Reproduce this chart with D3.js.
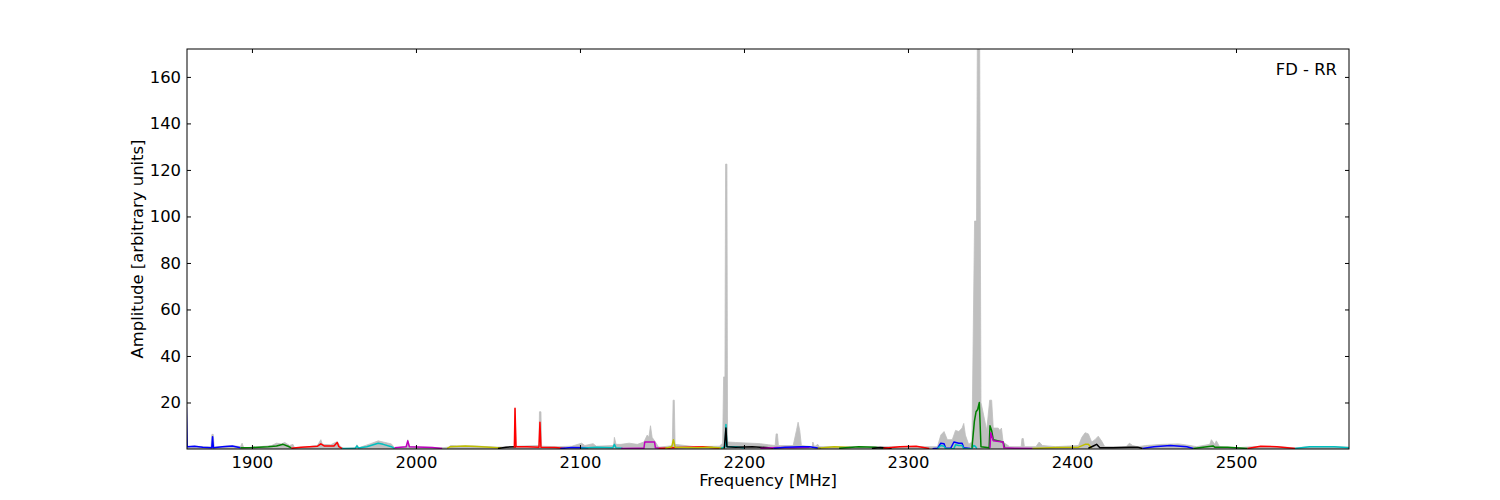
<!DOCTYPE html>
<html>
<head>
<meta charset="utf-8">
<script src="https://cdn.jsdelivr.net/npm/d3@7"></script>
<style>
  html, body { margin: 0; padding: 0; background: #fff; }
  svg text { font-family: "DejaVu Sans", sans-serif; }
</style>
</head>
<body>
<svg id="chart" width="1500" height="500"></svg>
<script>
// ---------------- DATA ----------------
const xTicks = [1900, 2000, 2100, 2200, 2300, 2400, 2500];
const yTicks = [20, 40, 60, 80, 100, 120, 140, 160];
const xDomain = [1860.4, 2568.9];
const yDomain = [0, 172];
const panelLabel = "FD - RR";
const xLabel = "Frequency [MHz]";
const yLabel = "Amplitude [arbitrary units]";

// grey envelope (maximum over all spectra) : [frequency MHz, amplitude]
const envelope = [
  [1860,18],[1860.6,1],[1865,1.2],[1870,1],[1875,0.8],[1875.6,6.3],[1876.4,6.3],[1877,0.8],[1885,1.3],[1890,1.3],
  [1893,1],[1894,2.5],[1895,0.5],[1905,1],[1912,1.5],[1915,2.5],[1918,2.2],[1920,2.8],[1923,1.5],[1925,2],[1926,0.5],
  [1935,1],[1940,1.6],[1942,4],[1943,2],[1948,1.8],[1952,3.2],[1954,1],[1956,0.3],
  [1963.5,0.6],[1964,1.8],[1965,0.5],[1972,2.2],[1977,3.5],[1980,3],[1985,2.2],[1987,0.5],
  [1994.5,1],[1995,4],[1996,1],[2005,0.8],[2015,0.5],[2020,0.8],[2021,1.5],[2025,1.3],[2035,1.3],[2050,0.8],
  [2060,1],[2060.4,17.5],[2061,1.2],[2075,1.5],[2075.3,16],[2076.2,16],[2076.6,1.2],[2085,1],[2095,1.2],
  [2101,2.5],[2103,1.5],[2108,2.3],[2110,1.2],[2120.5,1.5],[2121,5],[2122,2],[2125,2],[2130,2.5],[2135,2],
  [2139,3],[2141,6],[2142,5],[2143,10],[2144,5],[2146,3],[2148,0.8],[2155,1.3],[2156.3,1.5],[2156.8,21],[2157.5,21],[2158,2],
  [2170,1],[2185,1.2],[2187,2.5],[2187.6,31],[2188.4,31],[2188.8,122.5],[2189.6,122.5],[2190,3],[2195,2.8],[2210,2.3],
  [2215,1.8],[2219,1.5],[2219.6,6.5],[2220.4,6.5],[2221,1.5],[2230,1.5],[2232,8],[2233,11.5],[2234,8],[2235,1.5],
  [2241.6,1],[2242,3],[2243,1],[2245,2],[2246,1],[2265,1],[2290,1],[2310,1],[2318,1],
  [2320,6],[2322,7.5],[2324,4],[2327,4],[2329,8],[2331,7.5],[2333,9],[2334,11],[2335,6],[2337,2],[2339,3],
  [2340.6,98],[2341.8,98],[2342.3,176],[2343.7,176],[2344.5,20],[2346,15],[2348,8],[2349.8,21],[2351,21],[2352,9],
  [2355,9],[2356,8],[2357,9],[2358,3],[2362,1],[2369,1],[2369.5,4.5],[2370.3,4.5],[2371,1],[2378,1],[2380,3],
  [2382,1.5],[2390,1],[2404,1.5],[2406,5],[2408,7],[2410,6.5],[2412,3],[2414,4],[2416,5.5],[2418,3.5],[2420,1],
  [2433,1],[2435,2.5],[2437,1.5],[2440,1],[2445,1.5],[2455,2],[2465,2.2],[2472,1.5],[2476,1],[2484,2],[2485,4],
  [2487,2],[2488,3.5],[2490,1],[2500,0.5],[2510,1],[2525,1],[2536,0.5],[2545,1],[2560,1],[2569,0.8]
];

// median spectra of each sub-band : [frequency MHz, amplitude]
const band01 = [[1860,18],[1860.5,1],[1865,1.2],[1870,0.8],[1875.5,0.5],[1876,5.3],[1876.5,0.5],[1882,1],[1888,1.3],[1893,0.5]];
const band02 = [[1893,0.5],[1900,0.6],[1910,1],[1915,1.3],[1919,2],[1922,1.2],[1924,0.5]];
const band03 = [[1924,0.3],[1930,0.8],[1940,1.2],[1942,2.2],[1944,1.3],[1950,1.3],[1952,2.8],[1953,1],[1955,0.2]];
const band04 = [[1955,0.2],[1963,0.3],[1964,1.3],[1965,0.4],[1970,1],[1977,2.5],[1980,2],[1985,1],[1987,0.2]];
const band05 = [[1987,0.5],[1994,1],[1995,3.5],[1996,1],[2005,0.8],[2010,0.6],[2016,0.2]];
const band06 = [[2019,0.3],[2021,1],[2030,1.3],[2040,1],[2052,0.4]];
const band07 = [[2050,0.2],[2055,0.8],[2061,1]];
const band08 = [[2060,0.5],[2060.4,17.5],[2061,1],[2068,1],[2075,0.8],[2075.6,11.5],[2076.2,0.8],[2085,0.6],[2091,0.2]];
const band09 = [[2088,0.2],[2095,0.6],[2105,0.5]];
const band10 = [[2100,0.3],[2110,0.8],[2120,0.5],[2121,2],[2122,0.5],[2126,0.3]];
const band11 = [[2125,0.2],[2135,0.3],[2139,0.3],[2139.5,3],[2145.5,3],[2146,0.5],[2150,0.2],[2155,0.2]];
const band12 = [[2148,0.2],[2160,0.6],[2175,1],[2185,0.3]];
const band13 = [[2152,0.3],[2156,1],[2157,4],[2158,0.8],[2170,0.5],[2180,0.8],[2188,0.3]];
const band14 = [[2186,0.2],[2188.5,1],[2189,10.5],[2189.6,1],[2195,1],[2200,0.4]];
const band15 = [[2188,0.2],[2189,9],[2189.6,1],[2195,0.8],[2205,1],[2215,0.5],[2218,0.2]];
const band16 = [[2210,0.2],[2220,0.6],[2230,0.5],[2240,0.8]];
const band17 = [[2218,0.2],[2225,0.8],[2235,1],[2240,1],[2247,0.2]];
const band18 = [[2245,0.3],[2255,1],[2265,0.6]];
const band19 = [[2258,0.3],[2270,1],[2280,0.8],[2285,0.3]];
const band20 = [[2278,0.2],[2283,0.6],[2290,0.3]];
const band21 = [[2285,0.3],[2295,1],[2305,1.2],[2313,0.2]];
const band22 = [[2315,0.1],[2318,0.3],[2320,2.5],[2322,2.3],[2323,0.3],[2326,0.3],[2328,3],[2331,2.5],[2333,2.5],[2334,0.5],[2338,0.2]];
const band23 = [[2318,0.2],[2320,1.5],[2322,1.2],[2323,0.1],[2328,0.1],[2329,1.8],[2331,1.5],[2333,1.5],[2334,0.1],[2339,0.2],[2340,1.5],[2341,1.2],[2342,0.2]];
const band24 = [[2339,0.5],[2340.5,12],[2341.5,16],[2342.5,17],[2343.5,20],[2344.5,1],[2349.5,0.5],[2350,10],[2351,8],[2352,4],[2358,3],[2359,0.5]];
const band25 = [[2350,0.5],[2350.5,7],[2352,3.5],[2358,3],[2358.5,0.5],[2365,0.3],[2376,0.2]];
const band26 = [[2376,0.2],[2390,0.6],[2404,0.8],[2408,2],[2410,2],[2412,0.3]];
const band27 = [[2410,0.3],[2413,1.3],[2415,2],[2417,0.5],[2425,0.5],[2435,0.8],[2440,0.8],[2443,0.2]];
const band28 = [[2443,0.2],[2450,1],[2460,1.5],[2470,1],[2474,0.2]];
const band29 = [[2474,0.2],[2480,0.8],[2486,1.3],[2487,0.8],[2495,0.8],[2507,0.2]];
const band30 = [[2507,0.2],[2515,1.2],[2525,1],[2536,0.2]];
const band31 = [[2536,0.2],[2545,1],[2560,1],[2569,0.5]];

const bands = [band01,band02,band03,band04,band05,band06,band07,band08,band09,band10,band11,band12,band13,band14,band15,band16,
  band17,band18,band19,band20,band21,band22,band23,band24,band25,band26,band27,band28,band29,band30,band31];
const bandColorKeys = ["b","g","r","c","m","y","k","r","b","c","m","r","y","c","k","m","b","y","g","k","r","b","c","g","m","y","k","b","g","r","c"];

// ---------------- STYLE ----------------
const palette = { b: "#0000ff", g: "#008000", r: "#ff0000", c: "#00bfbf", m: "#bf00bf", y: "#bfbf00", k: "#000000" };
const margin = { left: 187, right: 151, top: 49, bottom: 51 };
const W = 1500, H = 500;
const iw = W - margin.left - margin.right, ih = H - margin.top - margin.bottom;

const svg = d3.select("#chart");
const g = svg.append("g").attr("transform", `translate(${margin.left},${margin.top})`);

const x = d3.scaleLinear().domain(xDomain).range([0, iw]);
const y = d3.scaleLinear().domain(yDomain).range([ih, 0]);

svg.append("defs").append("clipPath").attr("id", "clip")
  .append("rect").attr("width", iw).attr("height", ih);

const plot = g.append("g").attr("clip-path", "url(#clip)");

plot.append("path")
  .datum(envelope)
  .attr("fill", "#bfbfbf")
  .attr("stroke", "#bfbfbf")
  .attr("stroke-width", 0.8)
  .attr("d", d3.area().x(d => x(d[0])).y0(y(0)).y1(d => y(d[1])));

bands.forEach((b, i) => {
  plot.append("path")
    .datum(b)
    .attr("fill", "none")
    .attr("stroke", palette[bandColorKeys[i]])
    .attr("stroke-width", 1.5)
    .attr("stroke-linejoin", "round")
    .attr("d", d3.line().x(d => x(d[0])).y(d => y(d[1])));
});

// axes (ticks inside, on all four sides)
const fs = "16.4px";
const tl = 4;
const axB = g.append("g").attr("transform", `translate(0,${ih})`)
  .call(d3.axisBottom(x).tickValues(xTicks).tickSize(-tl).tickPadding(7).tickFormat(d3.format("d")));
const axT = g.append("g")
  .call(d3.axisTop(x).tickValues(xTicks).tickSize(-tl).tickFormat(""));
const axL = g.append("g")
  .call(d3.axisLeft(y).tickValues(yTicks).tickSize(-tl).tickPadding(6).tickFormat(d3.format("d")));
const axR = g.append("g").attr("transform", `translate(${iw},0)`)
  .call(d3.axisRight(y).tickValues(yTicks).tickSize(-tl).tickFormat(""));
[axB, axT, axL, axR].forEach(a => {
  a.select(".domain").remove();
  a.selectAll("text").attr("font-size", fs).attr("fill", "#000").attr("font-family", "DejaVu Sans, sans-serif");
  a.selectAll("line").attr("stroke", "#000");
});

g.append("rect").attr("width", iw).attr("height", ih)
  .attr("fill", "none").attr("stroke", "#000").attr("stroke-width", 1);

g.append("text").attr("x", iw / 2).attr("y", ih + 37)
  .attr("text-anchor", "middle").attr("font-size", fs).text(xLabel);
g.append("text").attr("transform", `translate(${-44},${ih / 2}) rotate(-90)`)
  .attr("text-anchor", "middle").attr("font-size", fs).text(yLabel);
g.append("text").attr("x", iw - 12).attr("y", 26)
  .attr("text-anchor", "end").attr("font-size", fs).text(panelLabel);
</script>
</body>
</html>
